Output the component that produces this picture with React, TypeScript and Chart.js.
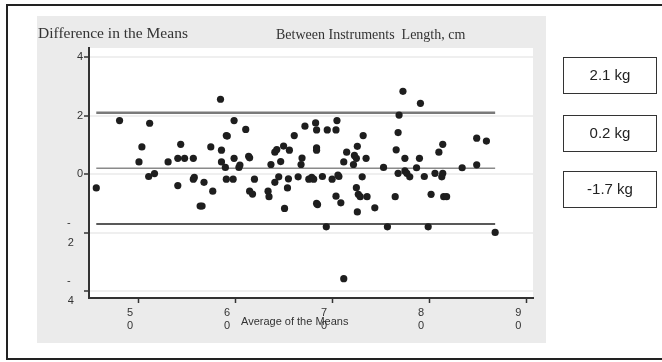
import React, { useEffect, useRef } from 'react';
import { Chart, registerables } from 'chart.js';

Chart.register(...registerables);

// ---- data ----
const meanAvg = [
  45.7, 48.1, 51.2, 50.4, 50.1, 51.1, 51.7, 53.1, 54.1, 54.4,
  54.8, 54.1, 55.7, 55.8, 55.7, 56.8, 57.5, 57.7, 58.5, 58.6,
  58.6, 59.0, 59.1, 59.2, 59.1, 59.8, 59.9, 59.9, 60.4, 60.5,
  61.1, 61.4, 61.5, 62.0, 61.5, 61.8, 56.4, 56.6, 63.4, 63.5,
  63.7, 64.1, 64.1, 64.3, 64.5, 64.7, 65.0, 65.4, 65.5, 65.6,
  66.1, 66.5, 66.8, 66.9, 67.2, 67.6, 67.9, 68.1, 68.3, 68.4,
  68.4, 68.4, 69.0, 69.5, 70.0, 70.4, 70.5, 70.7, 70.6, 71.2,
  71.5, 72.3, 72.5, 72.2, 72.6, 72.5, 72.7, 72.9, 73.1, 73.2,
  73.5, 73.6, 75.3, 76.5, 76.6, 76.8, 76.9, 77.3, 79.1, 77.5,
  79.0, 76.8, 77.5, 77.7, 78.0, 78.7, 79.5, 80.6, 81.0, 81.4,
  81.4, 81.3, 83.4, 84.9, 84.9, 85.9, 80.2, 81.5, 81.8, 75.7,
  79.9, 86.8, 71.2, 70.4, 70.9, 72.6, 74.4, 65.1, 68.4, 68.5,
  69.4,
];
const meanDiff = [
  -0.47, 1.83, 1.74, 0.93, 0.42, -0.08, 0.02, 0.42, 0.54, 1.02,
  0.54, -0.39, 0.54, -0.11, -0.17, -0.28, 0.93, -0.58, 2.56, 0.82,
  0.42, 0.23, 1.32, 1.30, -0.17, -0.17, 1.83, 0.54, 0.23, 0.31,
  1.53, 0.61, 0.56, -0.17, -0.58, -0.68, -1.09, -1.09, -0.58, -0.77,
  0.33, -0.28, 0.75, 0.84, -0.09, 0.43, 0.96, -0.47, -0.16, 0.82,
  1.32, -0.09, 0.33, 0.55, 1.64, -0.17, -0.11, -0.17, 1.75, 1.51,
  0.90, 0.82, -0.08, 1.51, -0.17, 1.51, 1.83, -0.08, -0.03, 0.42,
  0.75, 0.64, 0.54, 0.33, 0.95, -0.46, -0.69, -0.77, -0.09, 1.32,
  0.54, -0.77, 0.23, -0.77, 0.83, 1.42, 2.02, 2.83, 2.42, 0.54,
  0.54, 0.03, 0.11, 0.03, -0.09, 0.22, -0.08, 0.03, 0.75, 1.02,
  0.03, -0.09, 0.22, 1.23, 0.32, 1.13, -0.69, -0.77, -0.77, -1.80,
  -1.80, -1.99, -3.57, -0.75, -0.98, -1.29, -1.15, -1.17, -1.00, -1.04,
  -1.80,
];
const upperLimit = 2.1;
const meanBias = 0.2;
const lowerLimit = -1.7;
const limitLabels = ['2.1 kg', '0.2 kg', '-1.7 kg'];
const xTickValues = [50, 60, 70, 80, 90];
const yTickValues = [-4, -2, 0, 2, 4];
const chartTitle = 'Difference in the Means';
const chartSubtitle = 'Between Instruments  Length, cm';
const xAxisTitle = 'Average of the Means';

const SANS = '"Liberation Sans", Arial, sans-serif';
const SERIF = '"Liberation Serif", "Times New Roman", serif';

export default function App() {
  const ref = useRef<HTMLCanvasElement>(null);

  useEffect(() => {
    const canvas = ref.current;
    if (!canvas) return;
    const xMin = Math.min(...meanAvg);
    const xMax = Math.max(...meanAvg);
    const points = meanAvg.map((x, i) => ({ x, y: meanDiff[i] }));
    const hline = (y: number) => [{ x: xMin, y }, { x: xMax, y }];

    const decor = {
      id: 'decor',
      beforeDraw(chart: any) {
        const { ctx, chartArea: a } = chart;
        ctx.save();
        ctx.fillStyle = '#ffffff';
        ctx.fillRect(0, 0, chart.width, chart.height);
        ctx.strokeStyle = '#222222';
        ctx.lineWidth = 2;
        ctx.strokeRect(7, 5, 700, 354);
        ctx.fillStyle = '#ebebeb';
        ctx.fillRect(37, 16, 509, 327);
        ctx.fillStyle = '#ffffff';
        ctx.fillRect(a.left, a.top, a.right - a.left, a.bottom - a.top);
        ctx.restore();
      },
      afterDraw(chart: any) {
        const { ctx } = chart;
        ctx.save();
        ctx.fillStyle = '#333333';
        ctx.textBaseline = 'alphabetic';
        ctx.textAlign = 'left';
        ctx.font = `15.5px ${SERIF}`;
        ctx.fillText(chartTitle, 38, 38);
        ctx.font = `14px ${SERIF}`;
        ctx.fillText(chartSubtitle, 276, 39);
        ctx.font = `11px ${SANS}`;
        ctx.textBaseline = 'middle';
        ctx.fillText(xAxisTitle, 241, 322);
        // limit boxes
        const tops = [57, 115, 171];
        ctx.lineWidth = 1;
        ctx.strokeStyle = '#333333';
        ctx.font = `15px ${SANS}`;
        ctx.textAlign = 'center';
        ctx.fillStyle = '#222222';
        limitLabels.forEach((t, i) => {
          ctx.strokeRect(563.5, tops[i] + 0.5, 93, 36);
          ctx.fillText(t, 610, tops[i] + 18.5);
        });
        ctx.restore();
      },
    };

    const chart = new Chart(canvas, {
      type: 'scatter',
      data: {
        datasets: [
          {
            label: 'Differences',
            data: points,
            order: 0,
            pointRadius: 3.6,
            pointBackgroundColor: '#1e1e1e',
            pointBorderWidth: 0,
            pointHoverRadius: 3.6,
          },
          {
            label: 'Upper limit',
            data: hline(upperLimit),
            order: 1,
            showLine: true,
            borderColor: '#7a7a7a',
            borderWidth: 2.5,
            pointRadius: 0,
          },
          {
            label: 'Mean',
            data: hline(meanBias),
            order: 1,
            showLine: true,
            borderColor: '#8a8a8a',
            borderWidth: 1.5,
            pointRadius: 0,
          },
          {
            label: 'Lower limit',
            data: hline(lowerLimit),
            order: 1,
            showLine: true,
            borderColor: '#222222',
            borderWidth: 1.5,
            pointRadius: 0,
          },
        ],
      },
      plugins: [decor],
      options: {
        responsive: false,
        animation: false,
        devicePixelRatio: 1,
        layout: { padding: { left: 0, right: 129, top: 48, bottom: 0 } },
        plugins: {
          legend: { display: false },
          tooltip: { enabled: false },
          title: { display: false },
        },
        scales: {
          x: {
            type: 'linear',
            min: 44.95,
            max: 90.7,
            afterFit: (s: any) => { s.height = 64; },
            afterBuildTicks: (s: any) => { s.ticks = xTickValues.map((v) => ({ value: v })); },
            grid: {
              drawOnChartArea: false,
              drawTicks: true,
              tickLength: 5,
              tickColor: '#333333',
              tickWidth: 1.5,
            },
            border: { display: true, color: '#333333', width: 2 },
            ticks: {
              color: '#333333',
              padding: 3,
              labelOffset: -8,
              maxRotation: 0,
              autoSkip: false,
              font: { family: SANS, size: 11, lineHeight: 1.2 },
              callback: (v: any) => String(v).split(''),
            },
          },
          y: {
            type: 'linear',
            min: -4.23,
            max: 4.31,
            afterFit: (s: any) => { s.width = 89; },
            afterBuildTicks: (s: any) => { s.ticks = yTickValues.map((v) => ({ value: v })); },
            grid: {
              drawOnChartArea: true,
              color: '#efefef',
              lineWidth: 2,
              drawTicks: true,
              tickLength: 5,
              tickColor: '#333333',
              tickWidth: 1.5,
            },
            border: { display: true, color: '#333333', width: 2 },
            ticks: {
              color: '#333333',
              padding: 1,
              autoSkip: false,
              font: { family: SANS, size: 11, lineHeight: 1.8 },
              callback: (v: any) =>
                Number(v) < 0 ? ['-    ', Math.abs(Number(v)) + '   '] : String(v),
            },
          },
        },
      },
    });

    return () => chart.destroy();
  }, []);

  return (
    <div style={{ position: 'fixed', left: 0, top: 0, width: 662, height: 362 }}>
      <canvas ref={ref} width={662} height={362} style={{ width: 662, height: 362, display: 'block' }} />
    </div>
  );
}
